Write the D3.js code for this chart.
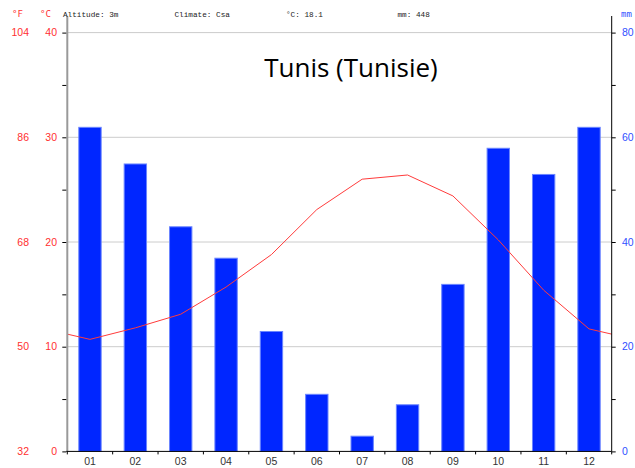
<!DOCTYPE html>
<html>
<head>
<meta charset="utf-8">
<script src="https://cdn.jsdelivr.net/npm/d3@7"></script>
<style>
  body { margin: 0; background: #fff; }
  svg { display: block; }
</style>
</head>
<body>
<div id="chart"></div>
<script>
// donnees climatiques
const months = ["01", "02", "03", "04", "05", "06", "07", "08", "09", "10", "11", "12"];
const precip = [62, 55, 43, 37, 23, 11, 3, 9, 32, 58, 53, 62];
const temp = [10.7, 11.8, 13.1, 15.7, 18.8, 23.1, 26.0, 26.4, 24.4, 20.2, 15.4, 11.7];
const tempTicks = [0, 10, 20, 30, 40];
const fahrTicks = [32, 50, 68, 86, 104];
const mmTicks = [0, 20, 40, 60, 80];
const header = ["Altitude: 3m", "Climate: Csa", "°C: 18.1", "mm: 448"];
const title = "Tunis (Tunisie)";

const W = 635, H = 468;
const pLeft = 67.3, pRight = 611.7, pTop = 32.6, pBottom = 451.4;

const svg = d3.select("#chart")
    .append("svg")
    .attr("width", W)
    .attr("height", H);

const x = d3.scaleBand()
    .domain(months)
    .range([pLeft, pRight])
    .paddingInner(0.485)
    .paddingOuter(0.2425);

const yT = d3.scaleLinear().domain([0, 40]).range([pBottom, pTop]);
const yP = d3.scaleLinear().domain([0, 80]).range([pBottom, pTop]);

// grille
svg.append("g")
    .selectAll("line")
    .data(tempTicks.slice(1))
    .join("line")
    .attr("x1", pLeft).attr("x2", pRight)
    .attr("y1", d => yT(d)).attr("y2", d => yT(d))
    .attr("stroke", "#cccccc")
    .attr("stroke-width", 1);

// barres de precipitations
svg.append("g")
    .selectAll("rect")
    .data(precip)
    .join("rect")
    .attr("x", (d, i) => x(months[i]) + 0.5)
    .attr("y", d => yP(d) + 0.5)
    .attr("width", x.bandwidth() - 1)
    .attr("height", d => pBottom - yP(d) - 0.5)
    .attr("fill", "#0026ff")
    .attr("stroke", "#6a85ff")
    .attr("stroke-width", 1);

// courbe de temperature (bouclee dec -> jan)
const edge = (temp[0] + temp[11]) / 2;
const pts = [[pLeft, edge]]
    .concat(temp.map((t, i) => [x(months[i]) + x.bandwidth() / 2, t]))
    .concat([[pRight, edge]]);

svg.append("path")
    .datum(pts)
    .attr("fill", "none")
    .attr("stroke", "#ff3b3b")
    .attr("stroke-width", 1)
    .attr("d", d3.line().x(d => d[0]).y(d => yT(d[1])));

// axe gauche (°C)
svg.append("line")
    .attr("x1", pLeft).attr("x2", pLeft)
    .attr("y1", 16).attr("y2", pBottom)
    .attr("stroke", "#999999")
    .attr("stroke-width", 2);

const axL = d3.axisLeft(yT)
    .tickValues(d3.range(0, 45, 5))
    .tickSize(4)
    .tickFormat("");
const gL = svg.append("g").attr("transform", `translate(${pLeft - 1},0)`).call(axL);
gL.select(".domain").remove();

const redText = svg.append("g")
    .attr("font-family", "Liberation Sans, Arial, sans-serif")
    .attr("font-size", 10.5)
    .attr("fill", "#ff3030");

redText.selectAll("text.c")
    .data(tempTicks)
    .join("text")
    .attr("class", "c")
    .attr("x", 57)
    .attr("y", d => yT(d))
    .attr("dy", "0.35em")
    .attr("text-anchor", "end")
    .text(d => d);

redText.selectAll("text.f")
    .data(fahrTicks)
    .join("text")
    .attr("class", "f")
    .attr("x", 29)
    .attr("y", (d, i) => yT(tempTicks[i]))
    .attr("dy", "0.35em")
    .attr("text-anchor", "end")
    .text(d => d);

// axe droit (mm)
const axR = d3.axisRight(yP)
    .tickValues(d3.range(0, 90, 10))
    .tickSize(4)
    .tickFormat("");
const gR = svg.append("g").attr("transform", `translate(${pRight},0)`).call(axR);
gR.select(".domain").remove();

svg.append("line")
    .attr("x1", pRight).attr("x2", pRight)
    .attr("y1", 16).attr("y2", pBottom)
    .attr("stroke", "#000")
    .attr("stroke-width", 1);

svg.append("g")
    .selectAll("text")
    .data(mmTicks)
    .join("text")
    .attr("x", 622)
    .attr("y", d => yP(d))
    .attr("dy", "0.35em")
    .attr("font-family", "Liberation Sans, Arial, sans-serif")
    .attr("font-size", 10.5)
    .attr("fill", "#3050ff")
    .text(d => d);

// axe du bas (mois)
svg.append("line")
    .attr("x1", pLeft - 1).attr("x2", pRight)
    .attr("y1", pBottom).attr("y2", pBottom)
    .attr("stroke", "#000")
    .attr("stroke-width", 1);

svg.append("g")
    .selectAll("line")
    .data(d3.range(13))
    .join("line")
    .attr("x1", i => pLeft + i * x.step())
    .attr("x2", i => pLeft + i * x.step())
    .attr("y1", pBottom).attr("y2", pBottom + 3)
    .attr("stroke", "#000");

svg.append("g")
    .selectAll("text")
    .data(months)
    .join("text")
    .attr("x", d => x(d) + x.bandwidth() / 2)
    .attr("y", 461)
    .attr("dy", "0.35em")
    .attr("text-anchor", "middle")
    .attr("font-family", "Liberation Sans, Arial, sans-serif")
    .attr("font-size", 10.5)
    .attr("fill", "#333")
    .text(d => d);

// unites
svg.append("text").attr("x", 12).attr("y", 17).attr("fill", "#ff3030")
    .attr("font-family", "DejaVu Sans Mono, monospace").attr("font-size", 9).text("°F");
svg.append("text").attr("x", 40).attr("y", 17).attr("fill", "#ff3030")
    .attr("font-family", "DejaVu Sans Mono, monospace").attr("font-size", 9).text("°C");
svg.append("text").attr("x", 621).attr("y", 17).attr("fill", "#3050ff")
    .attr("font-family", "DejaVu Sans Mono, monospace").attr("font-size", 9).text("mm");

// en-tete
svg.append("g")
    .selectAll("text")
    .data(header)
    .join("text")
    .attr("x", (d, i) => 63 + i * 111.5)
    .attr("y", 17)
    .attr("font-family", "Liberation Mono, DejaVu Sans Mono, monospace")
    .attr("font-size", 7.7)
    .attr("fill", "#222")
    .text(d => d);

// titre
svg.append("text")
    .attr("x", 351)
    .attr("y", 77)
    .attr("text-anchor", "middle")
    .attr("font-family", "Open Sans, sans-serif")
    .attr("font-size", 26)
    .attr("fill", "#000")
    .text(title);
</script>
</body>
</html>
